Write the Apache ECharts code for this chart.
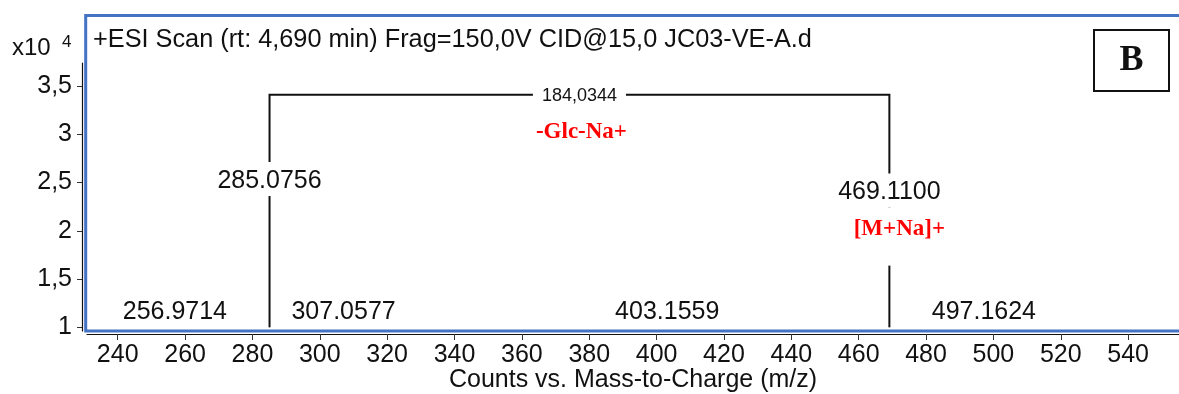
<!DOCTYPE html>
<html>
<head>
<meta charset="utf-8">
<script src="https://cdn.jsdelivr.net/npm/echarts@6/dist/echarts.min.js"></script>
<style>
  html, body { margin: 0; padding: 0; background: #ffffff; }
  #chart { width: 1179px; height: 394px; }
</style>
</head>
<body>
<div id="chart"></div>
<script>
// Centroided peaks of the +ESI MS/MS scan (counts in units of 10^4)
const peakMz = [256.9714, 285.0756, 307.0577, 403.1559, 469.1100, 497.1624];
const peakCounts = [1.0, 2.36, 1.0, 1.0, 1.64, 1.0];
const ionTags = ['', '', '', '', '[M+Na]+', ''];

// Neutral-loss bracket between fragment and precursor
const lossFrom = 1;            // index of 285.0756
const lossTo = 4;              // index of 469.1100
const lossLevel = 3.41;        // height of the bracket, x10^4
const lossName = '-Glc-Na+';

const countsFloor = 1.0;
const xTicks = [240, 260, 280, 300, 320, 340, 360, 380, 400, 420, 440, 460, 480, 500, 520, 540];
const yTicks = [1, 1.5, 2, 2.5, 3, 3.5];

const titleText = '+ESI Scan (rt: 4,690 min) Frag=150,0V CID@15,0 JC03-VE-A.d';
const xName = 'Counts vs. Mass-to-Charge (m/z)';
const panelLetter = 'B';

const SANS = '"Liberation Sans", Arial, sans-serif';
const SERIF = '"Liberation Serif", "Times New Roman", serif';
const BLUE = '#4472c4';
const INK = '#111111';

const chart = echarts.init(document.getElementById('chart'), null, { renderer: 'canvas' });

function fmtComma(v) {
  return String(v).replace('.', ',');
}

const option = {
  animation: false,
  backgroundColor: '#ffffff',
  grid: { left: 87, right: 0, top: 63, bottom: 63, outerBoundsMode: 'none', containLabel: false },
  xAxis: {
    type: 'value',
    min: 230.88,
    max: 555.1,
    offset: 3,
    axisLine: { show: true, lineStyle: { color: INK, width: 1.2 } },
    axisTick: { show: true, customValues: xTicks, length: 6, lineStyle: { color: '#333', width: 1 } },
    axisLabel: { customValues: xTicks, fontFamily: SANS, fontSize: 25, color: INK, margin: 9 },
    splitLine: { show: false },
    name: xName,
    nameLocation: 'middle',
    nameGap: 34,
    nameMoveOverlap: false,
    nameTextStyle: { fontFamily: SANS, fontSize: 25, color: INK }
  },
  yAxis: {
    type: 'value',
    min: 0.962,
    max: 3.738,
    offset: 5,
    axisLine: { show: true, lineStyle: { color: INK, width: 1.2 } },
    axisTick: { show: true, customValues: yTicks, length: 5, lineStyle: { color: '#333', width: 1 } },
    axisLabel: { customValues: yTicks, fontFamily: SANS, fontSize: 25, color: INK, margin: 10, formatter: fmtComma },
    splitLine: { show: false }
  },
  graphic: [
    // frame of the scan panel
    {
      type: 'rect', z: 50, silent: true,
      shape: { x: 85.7, y: 15.5, width: 1200, height: 315.5 },
      style: { fill: 'none', stroke: BLUE, lineWidth: 3 }
    },
    {
      type: 'text', z: 60,
      style: { text: titleText, x: 93, y: 40, verticalAlign: 'middle', font: '25.3px ' + SANS, fill: INK }
    },
    {
      type: 'text', z: 60,
      style: { text: 'x10', x: 12, y: 48, verticalAlign: 'middle', font: '24px ' + SANS, fill: INK }
    },
    {
      type: 'text', z: 60,
      style: { text: '4', x: 62, y: 42, verticalAlign: 'middle', font: '17px ' + SANS, fill: INK }
    },
    {
      type: 'rect', z: 60,
      shape: { x: 1094, y: 30, width: 75, height: 61 },
      style: { fill: '#ffffff', stroke: INK, lineWidth: 2 }
    },
    {
      type: 'text', z: 61,
      style: { text: panelLetter, x: 1131.5, y: 61, align: 'center', verticalAlign: 'middle',
               font: 'bold 36px ' + SERIF, fill: INK }
    }
  ],
  series: [
    {
      // neutral-loss bracket joining the two peaks
      type: 'custom',
      z: 1,
      silent: true,
      encode: { x: [0, 1], y: 2 },
      data: [[peakMz[lossFrom], peakMz[lossTo], lossLevel, peakCounts[lossFrom], peakCounts[lossTo]]],
      renderItem: function (params, api) {
        const a = api.value(0), b = api.value(1), lvl = api.value(2);
        const pA = api.coord([a, lvl]);
        const pB = api.coord([b, lvl]);
        const fA = api.coord([a, api.value(3)]);
        const fB = api.coord([b, api.value(4)]);
        const mid = (pA[0] + pB[0]) / 2;
        const delta = (b - a).toFixed(4).replace('.', ',');
        const lineStyle = { stroke: INK, lineWidth: 2, fill: null };
        return {
          type: 'group',
          children: [
            { type: 'polyline', shape: { points: [fA, pA, pB, fB] }, style: lineStyle },
            { type: 'text', style: { text: delta, x: mid, y: pA[1] + 1, align: 'center', verticalAlign: 'middle',
                font: '18px ' + SANS, fill: INK, backgroundColor: '#ffffff', padding: [2, 9, 2, 9] } },
            { type: 'text', style: { text: lossName, x: mid + 2, y: pA[1] + 37, align: 'center', verticalAlign: 'middle',
                font: 'bold 23px ' + SERIF, fill: '#ff0000' } }
          ]
        };
      }
    },
    {
      // stick spectrum with m/z labels
      type: 'custom',
      z: 2,
      silent: true,
      encode: { x: 0, y: 1 },
      data: peakMz.map(function (m, i) { return [m, peakCounts[i], i]; }),
      renderItem: function (params, api) {
        const m = api.value(0), c = api.value(1), idx = api.value(2);
        const top = api.coord([m, c]);
        const bot = api.coord([m, countsFloor]);
        const children = [];
        if (bot[1] - top[1] > 0.5) {
          children.push({ type: 'line', shape: { x1: top[0], y1: bot[1], x2: top[0], y2: top[1] },
                          style: { stroke: INK, lineWidth: 2 } });
        }
        let labelBottom = top[1];
        const tag = ionTags[idx];
        if (tag) {
          // ion tag sits on the peak, its white box hides the bracket leg
          const tagPad = [10, 0, 24, 20];
          children.push({ type: 'text', style: { text: tag, x: top[0], y: labelBottom, align: 'center', verticalAlign: 'bottom',
              font: 'bold 23px ' + SERIF, fill: '#ff0000', lineHeight: 24, backgroundColor: '#ffffff', padding: tagPad } });
          labelBottom -= tagPad[0] + tagPad[2] + 24;
        }
        children.push({ type: 'text', style: { text: m.toFixed(4), x: top[0], y: labelBottom, align: 'center', verticalAlign: 'bottom',
            font: '25px ' + SANS, fill: INK, lineHeight: 24, backgroundColor: '#ffffff', padding: [7, 6, 3, 6] } });
        return { type: 'group', children: children };
      }
    }
  ]
};

chart.setOption(option);
</script>
</body>
</html>
